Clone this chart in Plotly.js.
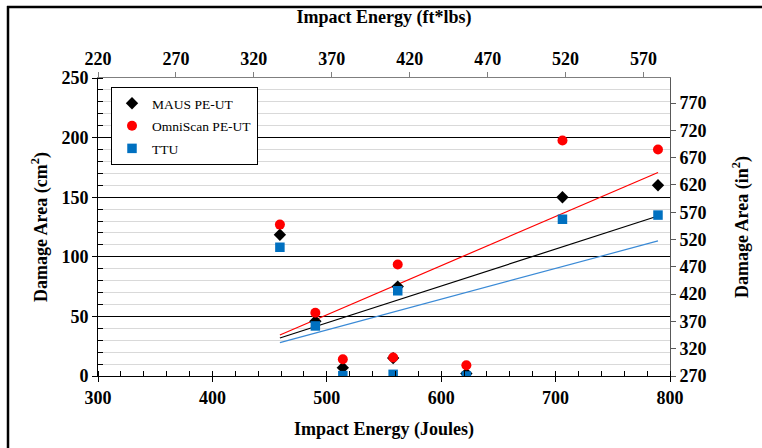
<!DOCTYPE html>
<html>
<head>
<meta charset="utf-8">
<script src="https://cdn.plot.ly/plotly-3.0.1.min.js"></script>
<style>
html,body{margin:0;padding:0;background:#fff;}
#chart{width:762px;height:448px;}
</style>
</head>
<body>
<div id="chart"></div>
<script>
// Impact energy (Joules) for each test
var energyJ = [459, 490, 514, 558, 562, 622, 706, 789.5];
// Damage area (cm^2)
var mausPEUT = [118.5, 46, 7, 15, 75, 2, 150, 160];
var omniPEUT = [127, 53, 14, 15.5, 93.5, 9, 197.5, 190];
var ttu      = [108, 42, 0.3, 1.4, 71.5, 0, 131.5, 135];
var seriesNames = ["MAUS PE-UT", "OmniScan PE-UT", "TTU"];

function linFit(x, y) {
  var n = x.length, mx = 0, my = 0;
  for (var i = 0; i < n; i++) { mx += x[i]; my += y[i]; }
  mx /= n; my /= n;
  var sxy = 0, sxx = 0;
  for (var i = 0; i < n; i++) { sxy += (x[i]-mx)*(y[i]-my); sxx += (x[i]-mx)*(x[i]-mx); }
  var b = sxy / sxx, a = my - b*mx;
  var x0 = Math.min.apply(null, x), x1 = Math.max.apply(null, x);
  return {x: [x0, x1], y: [a + b*x0, a + b*x1]};
}

var serif = "Liberation Serif, Times New Roman, Times, serif";
var fits = [linFit(energyJ, mausPEUT), linFit(energyJ, omniPEUT), linFit(energyJ, ttu)];
var lineColors = ["#000000", "#ff0000", "#3a8ad6"];

var traces = [];
for (var k = 0; k < 3; k++) {
  traces.push({x: fits[k].x, y: fits[k].y, mode: "lines", type: "scatter",
    line: {color: lineColors[k], width: 1.2}, showlegend: false, hoverinfo: "skip"});
}
traces.push({x: energyJ, y: mausPEUT, name: seriesNames[0], mode: "markers", type: "scatter",
  legendgroup: "a", marker: {symbol: "diamond", size: 9.5, color: "#000000"}});
traces.push({x: energyJ, y: omniPEUT, name: seriesNames[1], mode: "markers", type: "scatter",
  legendgroup: "b", marker: {symbol: "circle", size: 10, color: "#ff0000"}});
traces.push({x: energyJ, y: ttu, name: seriesNames[2], mode: "markers", type: "scatter",
  legendgroup: "c", marker: {symbol: "square", size: 9.5, color: "#0070c0"}});
// invisible traces to activate secondary axes
traces.push({x: [300], y: [null], xaxis: "x2", yaxis: "y", showlegend: false, hoverinfo: "skip", mode: "markers"});
traces.push({x: [300], y: [null], xaxis: "x", yaxis: "y2", showlegend: false, hoverinfo: "skip", mode: "markers"});

function px2x(p) { return (p - 98) / 572; }
function px2y(p) { return (376 - p) / 298; }

var tickFont = {family: serif, size: 18, color: "#000", weight: 700};
var titleFont = {family: serif, size: 18, color: "#000", weight: 700};

var layout = {
  width: 762, height: 448,
  margin: {l: 98, r: 92, t: 78, b: 72},
  paper_bgcolor: "#fff", plot_bgcolor: "#fff",
  font: {family: serif, color: "#000"},
  showlegend: true,
  legend: {x: px2x(111), y: px2y(87), xanchor: "left", yanchor: "top",
    bgcolor: "#fff", bordercolor: "#000", borderwidth: 1,
    font: {family: serif, size: 13.5, color: "#000"}, tracegroupgap: 2},
  xaxis: {range: [300, 800], dtick: 100, tick0: 300, showgrid: false, zeroline: false,
    showline: true, linecolor: "#000", linewidth: 1, mirror: false,
    ticks: "outside", ticklen: 5, tickcolor: "#000",
    minor: {dtick: 20, ticks: "inside", ticklen: 5, tickcolor: "#000", showgrid: false},
    tickfont: tickFont,
    title: {text: "Impact Energy (Joules)", font: titleFont, standoff: 15}},
  xaxis2: {overlaying: "x", side: "top", range: [220, 587], dtick: 50, tick0: 220,
    showgrid: false, zeroline: false, showline: true, linecolor: "#7f7f7f", linewidth: 1,
    ticks: "outside", ticklen: 5, tickcolor: "#7f7f7f",
    tickfont: tickFont,
    title: {text: "Impact Energy (ft*lbs)", font: titleFont, standoff: 20}},
  yaxis: {range: [0, 250], dtick: 50, tick0: 0, showgrid: true, gridcolor: "#000", gridwidth: 1,
    zeroline: false, showline: true, linecolor: "#000", linewidth: 1,
    ticks: "outside", ticklen: 5, tickcolor: "#000",
    minor: {dtick: 10, ticks: "inside", ticklen: 5, tickcolor: "#000", showgrid: true, gridcolor: "#d9d9d9", gridwidth: 1},
    tickfont: tickFont,
    title: {text: "Damage Area (cm<sup>2</sup>)", font: titleFont, standoff: 9}},
  yaxis2: {overlaying: "y", side: "right", range: [270, 816], dtick: 50, tick0: 270,
    showgrid: false, zeroline: false, showline: true, linecolor: "#595959", linewidth: 1,
    ticks: "outside", ticklen: 5, tickcolor: "#595959",
    tickfont: tickFont,
    title: {text: "Damage Area (in<sup>2</sup>)", font: titleFont, standoff: 29}},
  shapes: [
    {type: "line", xref: "paper", yref: "paper", x0: px2x(8), x1: px2x(8), y0: px2y(450), y1: px2y(6),
      line: {color: "#000", width: 2.5}},
    {type: "line", xref: "paper", yref: "paper", x0: px2x(7), x1: px2x(764), y0: px2y(7), y1: px2y(7),
      line: {color: "#000", width: 2.5}}
  ]
};

Plotly.newPlot("chart", traces, layout, {displayModeBar: false, staticPlot: true});
</script>
</body>
</html>
